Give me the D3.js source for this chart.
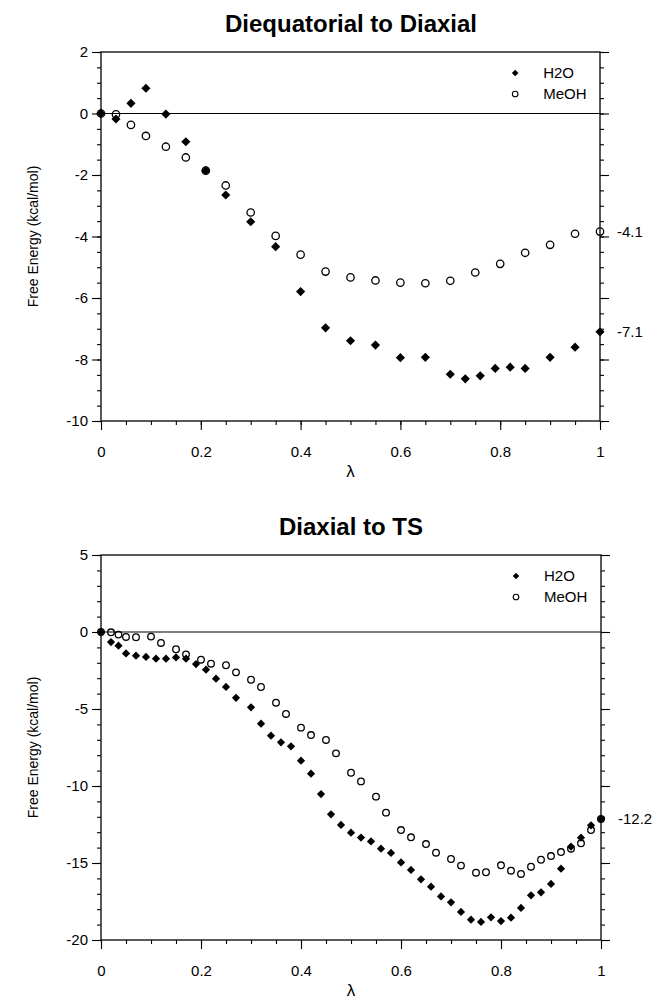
<!DOCTYPE html>
<html>
<head>
<meta charset="utf-8">
<script src="https://cdn.jsdelivr.net/npm/d3@7"></script>
<style>
  body { margin: 0; background: #fff; }
  text { font-family: "Liberation Sans", Arial, Helvetica, sans-serif; fill: #000; }
</style>
</head>
<body>
<script>
// top panel: diequatorial -> diaxial
const topLambdaH2O = [0, 0.03, 0.06, 0.09, 0.13, 0.17, 0.21, 0.25, 0.30, 0.35, 0.40, 0.45, 0.50, 0.55, 0.60, 0.65, 0.70, 0.73, 0.76, 0.79, 0.82, 0.85, 0.90, 0.95, 1.0];
const topH2O = [0, -0.18, 0.33, 0.82, -0.02, -0.92, -1.86, -2.65, -3.52, -4.33, -5.79, -6.97, -7.39, -7.53, -7.94, -7.93, -8.48, -8.63, -8.53, -8.29, -8.25, -8.29, -7.93, -7.60, -7.10];
const topLambdaMeOH = [0, 0.03, 0.06, 0.09, 0.13, 0.17, 0.21, 0.25, 0.30, 0.35, 0.40, 0.45, 0.50, 0.55, 0.60, 0.65, 0.70, 0.75, 0.80, 0.85, 0.90, 0.95, 1.0];
const topMeOH = [0, -0.03, -0.37, -0.73, -1.08, -1.43, -1.86, -2.34, -3.22, -3.98, -4.59, -5.14, -5.33, -5.43, -5.50, -5.52, -5.44, -5.17, -4.89, -4.53, -4.27, -3.91, -3.84];

// bottom panel: diaxial -> TS
const botLambdaH2O = [0, 0.02, 0.035, 0.05, 0.07, 0.09, 0.11, 0.13, 0.15, 0.17, 0.19, 0.21, 0.23, 0.25, 0.27, 0.30, 0.32, 0.34, 0.36, 0.38, 0.40, 0.42, 0.44, 0.46, 0.48, 0.50, 0.52, 0.54, 0.56, 0.58, 0.60, 0.62, 0.64, 0.66, 0.68, 0.70, 0.72, 0.74, 0.76, 0.78, 0.80, 0.82, 0.84, 0.86, 0.88, 0.90, 0.92, 0.94, 0.96, 0.98, 1.0];
const botH2O = [0, -0.65, -0.89, -1.39, -1.54, -1.62, -1.73, -1.73, -1.65, -1.73, -2.08, -2.45, -3.03, -3.57, -4.27, -4.89, -5.95, -6.73, -7.16, -7.42, -8.36, -9.20, -10.52, -11.84, -12.53, -13.03, -13.35, -13.6, -14.07, -14.35, -14.96, -15.45, -16.06, -16.54, -17.17, -17.55, -18.18, -18.68, -18.83, -18.53, -18.77, -18.55, -17.92, -17.10, -16.90, -16.36, -15.37, -13.94, -13.36, -12.55, -12.14];
const botLambdaMeOH = [0, 0.02, 0.035, 0.05, 0.07, 0.10, 0.12, 0.15, 0.17, 0.20, 0.22, 0.25, 0.27, 0.30, 0.32, 0.35, 0.37, 0.40, 0.42, 0.45, 0.47, 0.50, 0.52, 0.55, 0.57, 0.60, 0.62, 0.65, 0.67, 0.70, 0.72, 0.75, 0.77, 0.80, 0.82, 0.84, 0.86, 0.88, 0.90, 0.92, 0.94, 0.96, 0.98, 1.0];
const botMeOH = [0, -0.02, -0.17, -0.32, -0.34, -0.30, -0.71, -1.12, -1.45, -1.80, -2.06, -2.16, -2.62, -3.10, -3.57, -4.59, -5.32, -6.21, -6.69, -7.01, -7.88, -9.14, -9.70, -10.69, -11.73, -12.86, -13.33, -13.77, -14.33, -14.74, -15.17, -15.63, -15.60, -15.15, -15.50, -15.71, -15.24, -14.79, -14.55, -14.29, -14.07, -13.72, -12.86, -12.14];

const xTicks = [0, 0.2, 0.4, 0.6, 0.8, 1];
const xTickLabels = ['0', '0.2', '0.4', '0.6', '0.8', '1'];
const topYTicks = [-10, -8, -6, -4, -2, 0, 2];
const topYTickLabels = ['-10', '-8', '-6', '-4', '-2', '0', '2'];
const botYTicks = [-20, -15, -10, -5, 0, 5];
const botYTickLabels = ['-20', '-15', '-10', '-5', '0', '5'];
const seriesNames = ['H2O', 'MeOH'];

const svg = d3.select('body').append('svg')
  .attr('width', 660)
  .attr('height', 1000);

const diamond = d3.symbol().type(d3.symbolSquare);

function drawPanel(p) {
  const x = d3.scaleLinear().domain([0, 1]).range([101, p.right]);
  const y = d3.scaleLinear().domain(p.yDomain).range([p.bottom, p.top]);
  const g = svg.append('g');

  g.append('text')
    .attr('x', 351)
    .attr('y', p.top - 20)
    .attr('text-anchor', 'middle')
    .style('font-size', '24px')
    .style('font-weight', 'bold')
    .text(p.title);

  const xMinor = d3.range(0, 1.0001, 0.05);
  const yMinor = d3.range(p.yDomain[0], p.yDomain[1] + 0.001, p.yMinorStep);

  // minor ticks
  g.append('g').attr('transform', 'translate(0,' + p.bottom + ')')
    .call(d3.axisBottom(x).tickValues(xMinor).tickSize(4).tickFormat(''));
  g.append('g').attr('transform', 'translate(101,0)')
    .call(d3.axisLeft(y).tickValues(yMinor).tickSize(4).tickFormat(''));
  g.append('g').attr('transform', 'translate(' + p.right + ',0)')
    .call(d3.axisRight(y).tickValues(yMinor).tickSize(4).tickFormat(''));

  // major ticks + labels
  g.append('g').attr('transform', 'translate(0,' + p.bottom + ')')
    .call(d3.axisBottom(x).tickValues(xTicks).tickSize(9).tickPadding(16)
      .tickFormat((d, i) => xTickLabels[i]));
  g.append('g').attr('transform', 'translate(101,0)')
    .call(d3.axisLeft(y).tickValues(p.yTicks).tickSize(9).tickPadding(4)
      .tickFormat((d, i) => p.yTickLabels[i]));
  g.append('g').attr('transform', 'translate(' + p.right + ',0)')
    .call(d3.axisRight(y).tickValues(p.yTicks).tickSize(9).tickFormat(''));

  g.selectAll('.domain').remove();
  g.selectAll('.tick line').attr('stroke', '#000').attr('stroke-width', 1.1);
  g.selectAll('.tick text').style('font-size', '15px').attr('fill', '#000')
    .style('font-family', '"Liberation Sans", Arial, sans-serif');

  // frame and zero line
  g.append('rect')
    .attr('x', x(0)).attr('y', y(p.yDomain[1]))
    .attr('width', x(1) - x(0)).attr('height', y(p.yDomain[0]) - y(p.yDomain[1]))
    .attr('fill', 'none').attr('stroke', '#000').attr('stroke-width', 1.3);
  g.append('line')
    .attr('x1', x(0)).attr('x2', x(1)).attr('y1', y(0)).attr('y2', y(0))
    .attr('stroke', '#000').attr('stroke-width', 1.2);

  // axis titles
  g.append('text')
    .attr('transform', 'translate(38,' + (p.top + p.bottom) / 2 + ') rotate(-90)')
    .attr('text-anchor', 'middle')
    .style('font-size', '14px')
    .text('Free Energy (kcal/mol)');
  g.append('text')
    .attr('x', x(0.5)).attr('y', p.bottom + 56)
    .attr('text-anchor', 'middle')
    .style('font-size', '17px')
    .text('λ');

  // data
  const h2o = p.h2oX.map((d, i) => [d, p.h2oY[i]]);
  const meoh = p.meohX.map((d, i) => [d, p.meohY[i]]);

  g.selectAll('.h2o').data(h2o).enter().append('path')
    .attr('class', 'h2o')
    .attr('d', diamond.size(p.diamondSize))
    .attr('transform', d => 'translate(' + x(d[0]) + ',' + y(d[1]) + ') rotate(45)')
    .attr('fill', '#000');
  g.selectAll('.meoh').data(meoh).enter().append('circle')
    .attr('class', 'meoh')
    .attr('cx', d => x(d[0])).attr('cy', d => y(d[1]))
    .attr('r', p.circleR)
    .attr('fill', 'none').attr('stroke', '#000').attr('stroke-width', 1.3);

  // legend
  const lx = x(0.83);
  g.append('path')
    .attr('d', diamond.size(22))
    .attr('transform', 'translate(' + lx + ',' + (p.top + 21) + ') rotate(45)')
    .attr('fill', '#000');
  g.append('circle')
    .attr('cx', lx).attr('cy', p.top + 42).attr('r', 2.8)
    .attr('fill', 'none').attr('stroke', '#000').attr('stroke-width', 1.1);
  g.selectAll('.leg').data(seriesNames).enter().append('text')
    .attr('x', lx + 28).attr('y', (d, i) => p.top + 26 + i * 21)
    .style('font-size', '15px')
    .text(d => d);

  // end-value labels
  p.endLabels.forEach(v => {
    g.append('text')
      .attr('x', x(1) + 17).attr('y', y(v.at) + 5)
      .style('font-size', '15px')
      .text(v.label);
  });
}

drawPanel({
  title: 'Diequatorial to Diaxial',
  top: 52, bottom: 421, right: 600,
  yDomain: [-10, 2], yTicks: topYTicks, yTickLabels: topYTickLabels, yMinorStep: 0.5,
  h2oX: topLambdaH2O, h2oY: topH2O, meohX: topLambdaMeOH, meohY: topMeOH,
  diamondSize: 42, circleR: 3.7,
  endLabels: [{ at: -3.84, label: '-4.1' }, { at: -7.10, label: '-7.1' }]
});

drawPanel({
  title: 'Diaxial to TS',
  top: 555, bottom: 940, right: 601,
  yDomain: [-20, 5], yTicks: botYTicks, yTickLabels: botYTickLabels, yMinorStep: 1,
  h2oX: botLambdaH2O, h2oY: botH2O, meohX: botLambdaMeOH, meohY: botMeOH,
  diamondSize: 34, circleR: 3.3,
  endLabels: [{ at: -12.14, label: '-12.2' }]
});
</script>
</body>
</html>
